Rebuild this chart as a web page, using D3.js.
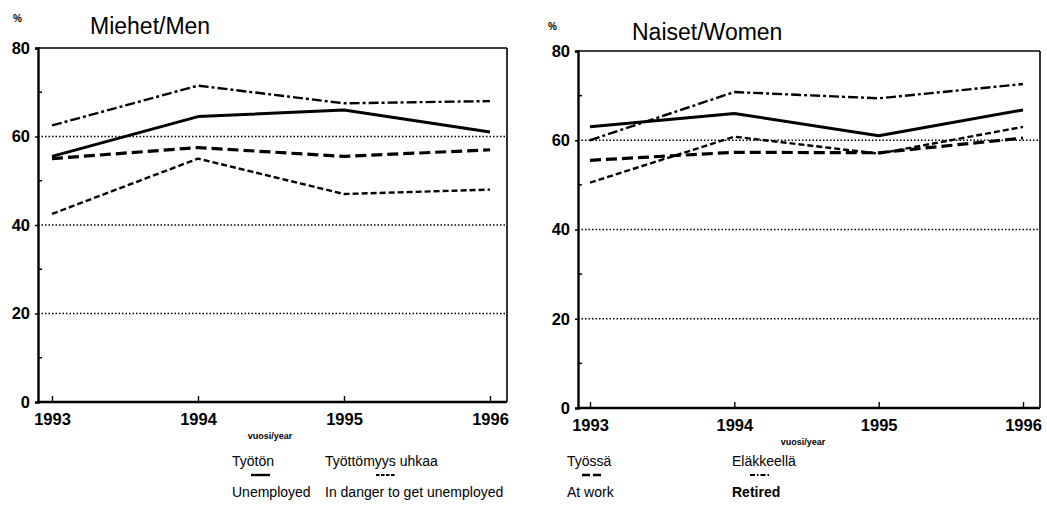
<!DOCTYPE html>
<html><head><meta charset="utf-8">
<script src="https://cdn.jsdelivr.net/npm/d3@7/dist/d3.min.js"></script>
<style>body{margin:0;background:#fff}svg{display:block}</style>
</head><body>
<svg id="c" width="1047" height="527"></svg>
<script>
const years = [1993, 1994, 1995, 1996];
const yTicks = [0, 20, 40, 60, 80];
const yMinor = [10, 30, 50, 70];
const gridVals = [20, 40, 60];
const seriesKeys = ["unemployed", "danger", "work", "retired"];
const legendFi = ["Työtön", "Työttömyys uhkaa", "Työssä", "Eläkkeellä"];
const legendEn = ["Unemployed", "In danger to get unemployed", "At work", "Retired"];
// Men
const menUnemployed = [55.5, 64.5, 66, 61];
const menDanger = [42.5, 55, 47, 48];
const menWork = [55, 57.5, 55.5, 57];
const menRetired = [62.5, 71.5, 67.5, 68];
// Women
const womenUnemployed = [63, 66, 61, 66.8];
const womenDanger = [50.5, 60.8, 57, 63];
const womenWork = [55.5, 57.3, 57.2, 60.5];
const womenRetired = [60, 70.8, 69.4, 72.6];

const styles = {
  unemployed: {w: 3, dash: null},
  danger: {w: 2.4, dash: "6,3"},
  work: {w: 3.2, dash: "11,5"},
  retired: {w: 2.4, dash: "10,3,3,3"}
};

const svg = d3.select("#c");
const font = "'Liberation Sans', Arial, Helvetica, sans-serif";

function panel(cfg) {
  const g = svg.append("g");
  const x = d3.scalePoint().domain(years).range([cfg.x0, cfg.x1]);
  const y = d3.scaleLinear().domain([0, 80]).range([cfg.yb, cfg.yt]);
  g.selectAll("line.grid").data(gridVals).join("line")
    .attr("x1", cfg.fl).attr("x2", cfg.fr)
    .attr("y1", d => y(d)).attr("y2", d => y(d))
    .attr("stroke", "#000").attr("stroke-width", 1.3).attr("stroke-dasharray", "1.5,2");
  g.append("line").attr("x1", cfg.fl).attr("x2", cfg.fr).attr("y1", y(80)).attr("y2", y(80))
    .attr("stroke", "#000").attr("stroke-width", 1.6);
  g.append("line").attr("x1", cfg.fr).attr("x2", cfg.fr).attr("y1", y(80)).attr("y2", y(0))
    .attr("stroke", "#000").attr("stroke-width", 1.6);
  const ya = g.append("g").attr("transform", `translate(${cfg.fl},0)`)
    .call(d3.axisLeft(y).tickValues(yTicks).tickSize(3).tickPadding(5).tickFormat(d3.format("d")));
  ya.select(".domain").attr("stroke-width", 2.4);
  ya.selectAll(".tick line").attr("stroke-width", 1.5);
  ya.selectAll("text").attr("font-family", font).attr("font-weight", "bold").attr("font-size", 16.5).attr("fill", "#000");
  g.selectAll("line.minor").data(yMinor).join("line")
    .attr("x1", cfg.fl).attr("x2", cfg.fl + 4)
    .attr("y1", d => y(d)).attr("y2", d => y(d))
    .attr("stroke", "#000").attr("stroke-width", 1.5);
  const xa = g.append("g").attr("transform", `translate(0,${y(0)})`)
    .call(d3.axisBottom(x).tickSizeInner(-6).tickSizeOuter(0).tickPadding(7).tickFormat(d3.format("d")));
  xa.select(".domain").attr("d", `M${cfg.fl},0H${cfg.fr}`).attr("stroke-width", 2.4);
  xa.selectAll("text").attr("font-family", font).attr("font-weight", "bold").attr("font-size", 16.5).attr("fill", "#000").attr("dy", "0.95em");
  xa.selectAll(".tick line").attr("stroke-width", 1.4);
  g.append("text").attr("x", cfg.xl).attr("y", y(0) + 37).attr("text-anchor", "middle")
    .attr("font-family", font).attr("font-weight", "bold").attr("font-size", 9).text("vuosi/year");
  g.append("text").attr("x", cfg.tx).attr("y", cfg.ty).attr("font-family", font)
    .attr("font-size", 23).text(cfg.title);
  g.append("text").attr("x", cfg.px).attr("y", cfg.py).attr("font-family", font).attr("font-weight", "bold")
    .attr("font-size", 10).text("%");
  const line = d3.line().x((d, i) => x(years[i])).y(d => y(d));
  seriesKeys.forEach(k => {
    g.append("path").datum(cfg.data[k]).attr("d", line).attr("fill", "none")
      .attr("stroke", "#000").attr("stroke-width", styles[k].w)
      .attr("stroke-dasharray", styles[k].dash).attr("stroke-linejoin", "round");
  });
}

panel({x0: 52, x1: 490, yb: 402, yt: 48, fl: 38, fr: 507, xl: 270,
  tx: 90, ty: 34, px: 13, py: 22, title: "Miehet/Men",
  data: {unemployed: menUnemployed, danger: menDanger, work: menWork, retired: menRetired}});
panel({x0: 590, x1: 1023, yb: 408, yt: 51, fl: 578, fr: 1040, xl: 803,
  tx: 632, ty: 40, px: 548, py: 30, title: "Naiset/Women",
  data: {unemployed: womenUnemployed, danger: womenDanger, work: womenWork, retired: womenRetired}});

const legX = [232, 325, 567, 732];
const lg = svg.append("g").attr("font-family", font).attr("font-size", 14).attr("fill", "#000");
seriesKeys.forEach((k, i) => {
  lg.append("text").attr("x", legX[i]).attr("y", 466).text(legendFi[i]);
  lg.append("text").attr("x", legX[i]).attr("y", 497).attr("font-weight", k === "retired" ? "bold" : "normal").text(legendEn[i]);
});
const sampX = [251, 376, 582, 750];
seriesKeys.forEach((k, i) => {
  lg.append("line").attr("x1", sampX[i]).attr("x2", sampX[i] + 19).attr("y1", 475).attr("y2", 475)
    .attr("stroke", "#000").attr("stroke-width", styles[k].w - 0.6)
    .attr("stroke-dasharray", k === "unemployed" ? null : (k === "work" ? "8,3" : (k === "danger" ? "3.5,1.5" : "5,2,1.5,2")));
});
</script>
</body></html>
